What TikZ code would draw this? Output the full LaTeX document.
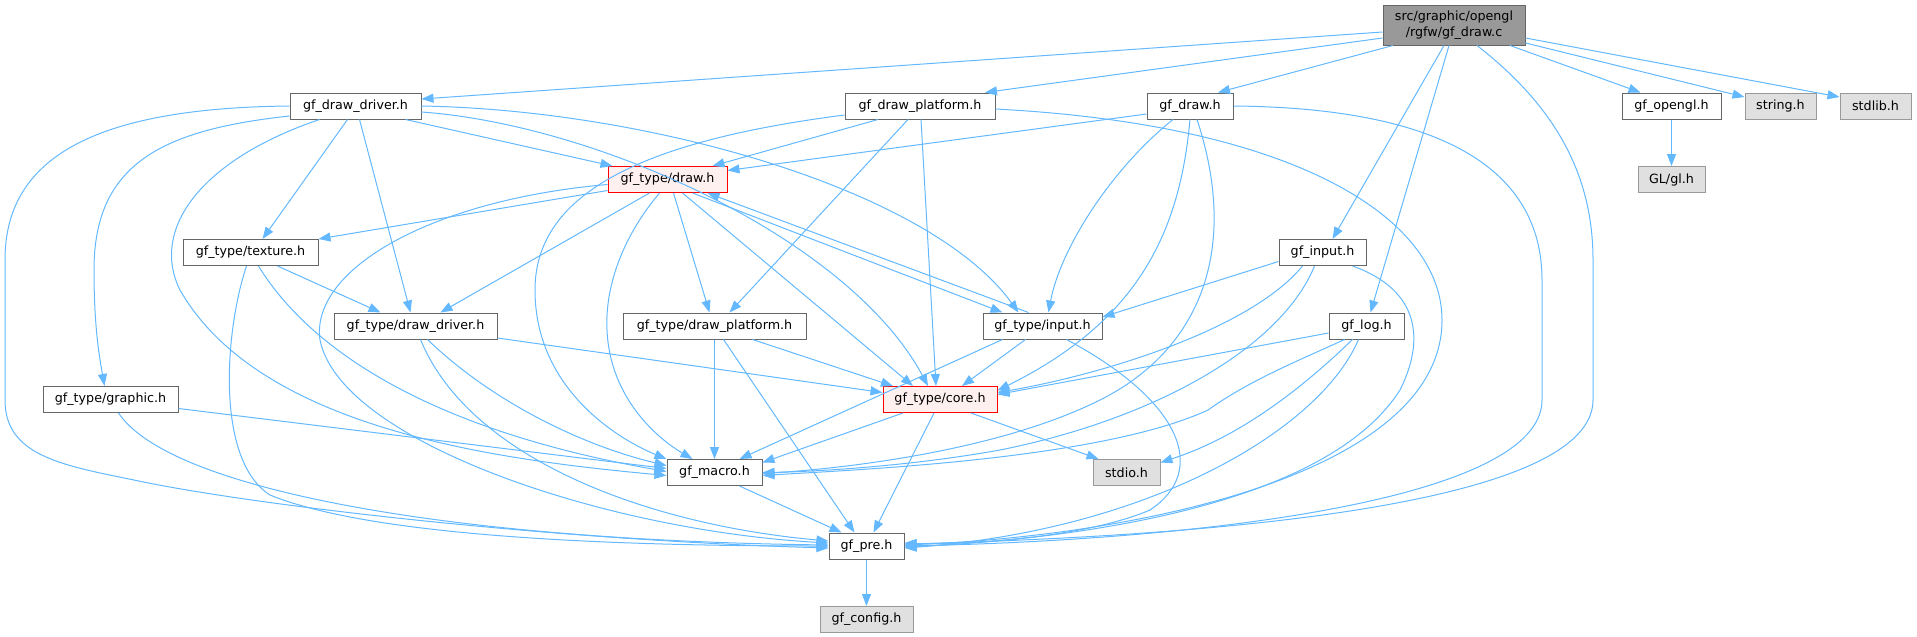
\documentclass[tikz,border=0pt]{standalone}
\usepackage{fontspec}
\setmainfont{DejaVu Sans}
\usetikzlibrary{arrows.meta}
\definecolor{edgec}{HTML}{63B8FF}
\definecolor{bordc}{HTML}{666666}
\definecolor{sysb}{HTML}{999999}
\definecolor{sysf}{HTML}{E0E0E0}
\definecolor{topf}{HTML}{999999}
\definecolor{hotb}{HTML}{FF0000}
\definecolor{hotf}{HTML}{FFF0F0}
\begin{document}
\begin{tikzpicture}[x=1pt,y=-1pt,
  box/.style={draw=bordc, fill=white, line width=1pt, inner sep=0pt, minimum height=26pt,
    font=\fontsize{12.7}{15.5}\selectfont, text=black},
  sysbox/.style={box, draw=sysb, fill=sysf},
  hotbox/.style={box, draw=hotb, fill=hotf},
  edge/.style={draw=edgec, line width=1pt, -{Triangle[length=12pt,width=9pt]}}]
\useasboundingbox (0,0) rectangle (1917,637);
% nodes
\node[box, fill=topf, minimum width=142pt, minimum height=40pt, align=center] (T) at (1454,25) {src/graphic/opengl\\/rgfw/gf\_draw.c};
\node[box, minimum width=131pt] (ddrv) at (355.5,106) {gf\_draw\_driver.h};
\node[box, minimum width=150pt] (dplat) at (920,106) {gf\_draw\_platform.h};
\node[box, minimum width=86pt] (gdraw) at (1190,106) {gf\_draw.h};
\node[box, minimum width=99pt] (opengl) at (1671.5,106) {gf\_opengl.h};
\node[sysbox, minimum width=71pt] (string) at (1780.5,106) {string.h};
\node[sysbox, minimum width=71pt] (stdlib) at (1875.5,106) {stdlib.h};
\node[hotbox, minimum width=119pt] (tdraw) at (667.5,179.5) {gf\_type/draw.h};
\node[sysbox, minimum width=67pt] (gl) at (1671.5,179.5) {GL/gl.h};
\node[box, minimum width=135pt] (texture) at (250.5,252.5) {gf\_type/texture.h};
\node[box, minimum width=87pt] (ginput) at (1322.5,252.5) {gf\_input.h};
\node[box, minimum width=163pt] (tddrv) at (415.5,326) {gf\_type/draw\_driver.h};
\node[box, minimum width=183pt] (tdplat) at (714.5,326) {gf\_type/draw\_platform.h};
\node[box, minimum width=119pt] (tinput) at (1042.5,326) {gf\_type/input.h};
\node[box, minimum width=75pt] (log) at (1366.5,326) {gf\_log.h};
\node[box, minimum width=135pt] (graphic) at (110.5,399.5) {gf\_type/graphic.h};
\node[hotbox, minimum width=114pt] (core) at (940,399.5) {gf\_type/core.h};
\node[box, minimum width=95pt] (macro) at (714.5,472.5) {gf\_macro.h};
\node[sysbox, minimum width=67pt] (stdio) at (1126.5,472.5) {stdio.h};
\node[box, minimum width=75pt] (pre) at (866.5,546) {gf\_pre.h};
\node[sysbox, minimum width=93pt] (config) at (866.5,619.5) {gf\_config.h};
% top node
\draw[edge] ([yshift=-7]T.west) -- ([yshift=7]ddrv.east);
\draw[edge] ([yshift=-13]T.west) -- ([xshift=65]dplat.north);
\draw[edge] ([xshift=-61]T.south) -- ([xshift=28]gdraw.north);
\draw[edge] ([xshift=-10]T.south) -- ([xshift=10]ginput.north);
\draw[edge] ([xshift=-5]T.south) -- ([xshift=4]log.north);
\draw[edge] ([xshift=23]T.south) .. controls (1560,110) and (1593,180) .. (1593,260) -- (1593,400) .. controls (1593,500) and (1250,535) .. ([yshift=2]pre.east);
\draw[edge] ([xshift=56]T.south) -- ([xshift=-31]opengl.north);
\draw[edge] ([yshift=-18]T.east) -- ([yshift=9]string.west);
\draw[edge] ([yshift=-13]T.east) -- ([yshift=9]stdlib.west);
\draw[edge] (opengl) -- (gl);
% gf_draw_driver.h
\draw[edge] (ddrv.west) .. controls (90,108) and (5,160) .. (5,260) -- (5,400) .. controls (5,455) and (60,465) .. (134,480) .. controls (250,505) and (550,540) .. ([yshift=-2]pre.west);
\draw[edge] ([yshift=-10]ddrv.west) .. controls (160,130) and (94,165) .. (94,270) .. controls (94,330) and (100,360) .. ([xshift=-6]graphic.north);
\draw[edge] ([xshift=-36]ddrv.south) .. controls (200,160) and (150,230) .. (180,290) .. controls (260,430) and (500,460) .. ([yshift=-3]macro.west);
\draw[edge] ([xshift=-8]ddrv.south) -- ([xshift=12]texture.north);
\draw[edge] ([xshift=4]ddrv.south) -- ([xshift=-5]tddrv.north);
\draw[edge] ([xshift=50]ddrv.south) -- ([xshift=-55]tdraw.north);
\draw[edge] (ddrv.east) .. controls (650,110) and (930,190) .. ([xshift=-24]tinput.north);
\draw[edge] ([yshift=-6]ddrv.east) .. controls (600,125) and (850,240) .. ([xshift=-12]core.north);
% gf_type/draw.h
\draw[edge] ([yshift=-11]tdraw.west) -- (texture.north east);
\draw[edge] ([yshift=-5]tdraw.west) .. controls (430,200) and (310,270) .. (320,340) .. controls (340,440) and (600,530) .. ([yshift=3]pre.west);
\draw[edge] ([xshift=-18]tdraw.south) -- ([xshift=25]tddrv.north);
\draw[edge] ([xshift=-8]tdraw.south) .. controls (620,240) and (605,290) .. (607,330) .. controls (610,400) and (660,440) .. ([xshift=-22]macro.north);
\draw[edge] ([xshift=6]tdraw.south) -- ([xshift=-5]tdplat.north);
\draw[edge] ([xshift=15]tdraw.south) -- ([xshift=-27]core.north);
\draw[edge] ([xshift=25]tdraw.south) -- ([xshift=-40]tinput.north);
\draw[edge] ([xshift=-14]tinput.north) -- ([xshift=40]tdraw.south);
% gf_draw_platform.h
\draw[edge] ([xshift=-42]dplat.south) -- ([xshift=45]tdraw.north);
\draw[edge] ([yshift=-9]dplat.west) .. controls (650,140) and (535,190) .. (535,290) .. controls (535,390) and (620,440) .. (macro.north west);
\draw[edge] ([xshift=-12]dplat.south) -- ([xshift=15]tdplat.north);
\draw[edge] ([xshift=1]dplat.south) -- ([xshift=-4]core.north);
\draw[edge] ([yshift=-3]dplat.east) .. controls (1300,125) and (1442,220) .. (1442,320) .. controls (1442,470) and (1150,535) .. ([yshift=1]pre.east);
% gf_draw.h
\draw[edge] ([yshift=-8]gdraw.west) -- ([yshift=9]tdraw.east);
\draw[edge] ([xshift=-17]gdraw.south) .. controls (1110,170) and (1060,250) .. ([xshift=6]tinput.north);
\draw[edge] (gdraw.south) .. controls (1180,230) and (1140,320) .. ([yshift=9]core.east);
\draw[edge] ([xshift=7]gdraw.south) .. controls (1240,250) and (1200,350) .. (1100,400) .. controls (1000,450) and (850,468) .. ([yshift=-1]macro.east);
\draw[edge] (gdraw.east) .. controls (1460,108) and (1542,180) .. (1542,280) -- (1542,400) .. controls (1542,500) and (1200,540) .. (pre.east);
% gf_input.h
\draw[edge] ([yshift=-9]ginput.west) -- ([yshift=9]tinput.east);
\draw[edge] ([xshift=-20]ginput.south) .. controls (1250,330) and (1100,375) .. ([yshift=7]core.east);
\draw[edge] ([xshift=-8]ginput.south) .. controls (1280,350) and (1150,420) .. (1000,450) .. controls (900,468) and (800,472) .. (macro.east);
\draw[edge] ([xshift=30]ginput.south) .. controls (1420,290) and (1425,340) .. (1400,390) .. controls (1330,500) and (1100,538) .. ([yshift=-1]pre.east);
% gf_log.h
\draw[edge] ([yshift=-7]log.west) -- ([yshift=5]core.east);
\draw[edge] ([xshift=-22]log.south) .. controls (1300,360) and (1250,380) .. (1208,410) .. controls (1100,460) and (850,470) .. ([yshift=-3]macro.east);
\draw[edge] ([xshift=-14]log.south) .. controls (1290,400) and (1230,440) .. ([yshift=10]stdio.east);
\draw[edge] ([xshift=-8]log.south) .. controls (1320,430) and (1150,530) .. ([yshift=-2]pre.east);
% gf_type/draw_driver.h
\draw[edge] ([yshift=-12]tddrv.east) -- ([yshift=7]core.west);
\draw[edge] ([xshift=12]tddrv.south) .. controls (490,400) and (580,445) .. ([yshift=7]macro.west);
\draw[edge] ([xshift=5]tddrv.south) .. controls (470,460) and (650,525) .. ([yshift=5]pre.west);
% gf_type/texture.h
\draw[edge] ([xshift=27]texture.south) -- ([xshift=-35]tddrv.north);
\draw[edge] ([xshift=-4]texture.south) .. controls (225,330) and (215,460) .. (270,495) .. controls (380,540) and (650,546) .. (pre.west);
\draw[edge] ([xshift=8]texture.south) .. controls (310,350) and (430,430) .. ([yshift=1]macro.west);
% gf_type/graphic.h
\draw[edge] ([yshift=-9]graphic.east) -- ([yshift=4]macro.west);
\draw[edge] ([xshift=8]graphic.south) .. controls (170,490) and (450,540) .. ([yshift=1]pre.west);
% gf_type/draw_platform.h
\draw[edge] (tdplat.south) -- (macro.north);
\draw[edge] ([xshift=9]tdplat.south) -- ([xshift=-12]pre.north);
\draw[edge] ([xshift=38]tdplat.south) -- ([xshift=-47]core.north);
% gf_type/input.h
\draw[edge] ([xshift=-17]tinput.south) -- ([xshift=22]core.north);
\draw[edge] ([xshift=-40]tinput.south) -- ([xshift=25]macro.north);
\draw[edge] ([xshift=24]tinput.south) .. controls (1180,400) and (1210,470) .. (1150,510) .. controls (1080,540) and (950,545) .. ([yshift=3]pre.east);
% gf_type/core.h
\draw[edge] ([xshift=-37]core.south) -- ([yshift=10]macro.east);
\draw[edge] ([xshift=-6]core.south) -- ([xshift=7]pre.north);
\draw[edge] ([xshift=31]core.south) -- ([xshift=-28]stdio.north);
% gf_macro.h, gf_pre.h
\draw[edge] ([xshift=25]macro.south) -- ([xshift=-25]pre.north);
\draw[edge] (pre) -- (config);
\end{tikzpicture}
\end{document}
